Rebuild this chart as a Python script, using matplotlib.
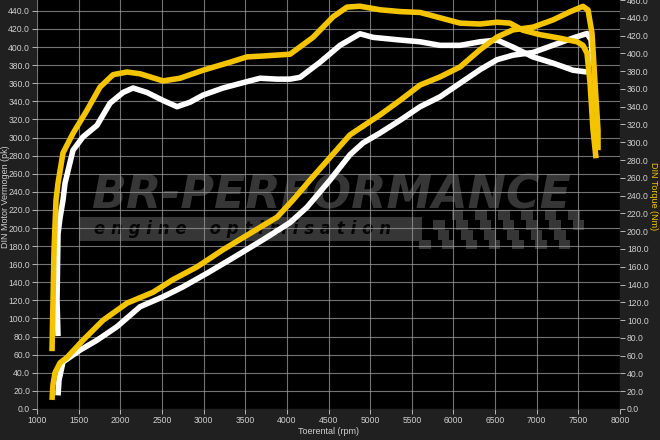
import numpy as np
import matplotlib.pyplot as plt
from matplotlib.patches import Rectangle

plt.rcParams['font.family'] = ['Liberation Sans', 'DejaVu Sans']

# tuned torque (Nm), yellow
tq_tuned_rpm = [1180, 1192, 1204, 1228, 1252, 1312, 1432, 1600, 1756, 1913, 2081, 2237,
                2513, 2717, 2993, 3317, 3521, 3713, 4038, 4314, 4554, 4722, 4878, 5118,
                5358, 5599, 5839, 6079, 6319, 6523, 6679, 6835, 7039, 7280, 7484, 7556,
                7604, 7640, 7676, 7712]
tq_tuned = [65, 122, 178, 235, 254, 288, 310, 336, 362, 376, 379, 377,
            369, 372, 381, 390, 396, 397, 399, 418, 441, 452, 453, 449,
            447, 446, 440, 434, 433, 435, 434, 426, 421, 417, 413, 409,
            400, 367, 314, 282]

# stock torque (Nm), white
tq_stock_rpm = [1252, 1240, 1252, 1276, 1312, 1336, 1432, 1552, 1720, 1877, 2033, 2153,
                2321, 2513, 2681, 2837, 2993, 3233, 3473, 3678, 3882, 4038, 4158, 4398,
                4638, 4878, 5034, 5358, 5599, 5839, 6079, 6319, 6523, 6715, 6955, 7196,
                7436, 7604]
tq_stock = [82, 122, 197, 215, 235, 254, 291, 306, 319, 344, 356, 361,
            356, 347, 340, 345, 353, 361, 367, 372, 371, 371, 373, 390,
            409, 422, 418, 415, 413, 409, 409, 413, 415, 407, 396, 389,
            381, 379]

# tuned power (pk), yellow
pk_tuned_rpm = [1180, 1192, 1216, 1276, 1360, 1552, 1792, 2081, 2393, 2633, 2921, 3233,
                3557, 3882, 4074, 4278, 4518, 4758, 5118, 5358, 5599, 5839, 6079, 6319,
                6523, 6715, 6955, 7196, 7400, 7556, 7616, 7664, 7700, 7736, 7736]
pk_tuned = [10, 27, 40, 51, 57, 76, 98, 117, 129, 143, 157, 176,
            194, 212, 231, 253, 278, 303, 325, 341, 358, 367, 378, 397,
            411, 419, 422, 430, 439, 445, 441, 415, 360, 308, 286]

# stock power (pk), white
pk_stock_rpm = [1252, 1264, 1312, 1516, 1720, 1961, 2237, 2513, 2753, 3041, 3317, 3713,
                4038, 4242, 4518, 4758, 4914, 5118, 5358, 5599, 5839, 6079, 6319, 6523,
                6715, 6955, 7196, 7436, 7604, 7652, 7676]
pk_stock = [15, 32, 52, 65, 76, 91, 113, 124, 135, 150, 165, 187,
            206, 223, 253, 281, 294, 305, 319, 334, 345, 360, 375, 386,
            391, 394, 402, 410, 415, 408, 380]

yellow = '#f5c400'
white = '#ffffff'
txt = '#cfcfcf'
wm = '#363636'

fig = plt.figure(figsize=(6.6, 4.4), dpi=100, facecolor='#202020')
ax = fig.add_axes([0.0561, 0.0705, 0.8833, 0.9295])
ax.set_facecolor('black')
ax2 = ax.twinx()
ax3 = ax.twinx()

# watermark logo
ax.text(0.505, 0.52, 'BR-PERFORMANCE', transform=ax.transAxes, fontsize=33,
        family='DejaVu Sans', fontstyle='italic', fontweight='bold', color=wm,
        ha='center', va='center', zorder=1)
ax.add_patch(Rectangle((0.072, 0.411), 0.588, 0.058, transform=ax.transAxes,
                       color=wm, zorder=0.8, lw=0))
ax.text(0.098, 0.44, 'e n g i n e    o p t i m i s a t i o n', transform=ax.transAxes,
        fontsize=12, family='DejaVu Sans', fontstyle='italic', fontweight='bold',
        color='#050505', va='center', zorder=1)
# checkered flag
sq = 0.02
for i in range(13):
    for j in range(4):
        if (i + j) % 2 == 0:
            ax.add_patch(Rectangle((0.655 + i * sq + j * 0.012, 0.39 + j * sq * 1.2),
                                   sq, sq * 1.2, color=wm, lw=0, zorder=0.8,
                                   transform=ax.transAxes))

ax.plot(pk_stock_rpm, pk_stock, color=white, lw=4, solid_capstyle='butt', zorder=2)
ax2.plot(tq_stock_rpm, tq_stock, color=white, lw=4, solid_capstyle='butt')
ax2.plot(tq_tuned_rpm, tq_tuned, color=yellow, lw=4, solid_capstyle='butt')
ax3.plot(pk_tuned_rpm, pk_tuned, color=yellow, lw=4, solid_capstyle='butt')

ax.set_xlim(1000, 8000)
ax.set_ylim(0, 452)
ax2.set_ylim(0, 460)
ax3.set_ylim(0, 452)
ax3.axis('off')

ax.set_xticks(np.arange(1000, 8001, 500))
ax.set_yticks(np.arange(0, 441, 20))
ax2.set_yticks(np.arange(0, 461, 20))
ax.set_yticklabels(['%.1f' % v for v in np.arange(0, 441, 20)])
ax2.set_yticklabels(['%.1f' % v for v in np.arange(0, 461, 20)])

ax.grid(True, color='#9a9a9a', lw=0.8, alpha=0.75)
for a in (ax, ax2):
    a.tick_params(colors=txt, labelsize=6.2, length=3.5, width=0.6, pad=1.5)
    for s in a.spines.values():
        s.set_visible(False)

ax.set_xlabel('Toerental (rpm)', color=txt, fontsize=6.5)
ax.xaxis.set_label_coords(0.5, -0.044)
ax.set_ylabel('DIN Motor Vermogen (pk)', color=txt, fontsize=6.5, va='center')
ax.yaxis.set_label_coords(-0.054, 0.52)
ax2.set_ylabel('DIN Torque (Nm)', color=yellow, fontsize=6.5, rotation=270, va='center')
ax2.yaxis.set_label_coords(1.057, 0.52)

fig.savefig('out.png', dpi=100, facecolor=fig.get_facecolor())
